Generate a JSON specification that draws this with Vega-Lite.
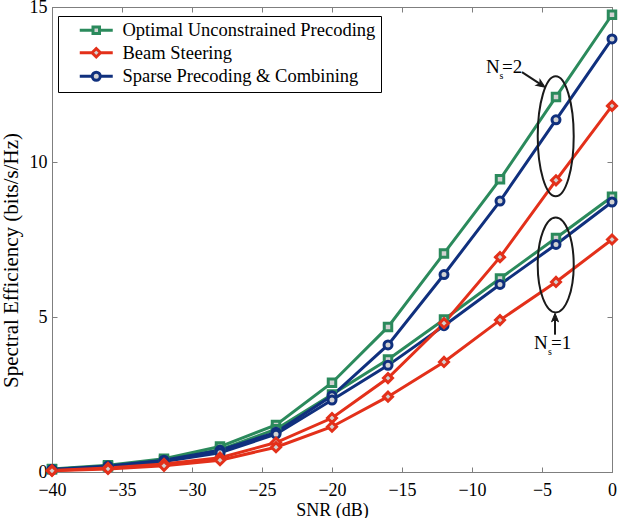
{
  "$schema": "https://vega.github.io/schema/vega-lite/v6.json",
  "width": 560,
  "height": 465,
  "autosize": {"type": "none"},
  "padding": {"left": 52, "top": 7, "right": 11, "bottom": 46},
  "background": "white",
  "config": {
    "view": {"stroke": "#7f7f7f", "strokeWidth": 1},
    "font": "Liberation Serif",
    "axis": {
      "grid": false,
      "domainColor": "#7f7f7f",
      "tickColor": "#7f7f7f",
      "tickSize": -5,
      "labelFont": "Liberation Serif",
      "labelFontSize": 18,
      "labelColor": "black",
      "labelFlush": false,
      "titleFont": "Liberation Serif",
      "titleFontSize": 18,
      "titleFontWeight": "normal",
      "titleColor": "black"
    },
    "legend": {"labelFont": "Liberation Serif"}
  },
  "datasets": {
    "curves": [
      {"snr": -40, "se": 0.10, "method": "Optimal Unconstrained Precoding", "ns": "2"},
      {"snr": -36, "se": 0.22, "method": "Optimal Unconstrained Precoding", "ns": "2"},
      {"snr": -32, "se": 0.43, "method": "Optimal Unconstrained Precoding", "ns": "2"},
      {"snr": -28, "se": 0.82, "method": "Optimal Unconstrained Precoding", "ns": "2"},
      {"snr": -24, "se": 1.52, "method": "Optimal Unconstrained Precoding", "ns": "2"},
      {"snr": -20, "se": 2.88, "method": "Optimal Unconstrained Precoding", "ns": "2"},
      {"snr": -16, "se": 4.68, "method": "Optimal Unconstrained Precoding", "ns": "2"},
      {"snr": -12, "se": 7.05, "method": "Optimal Unconstrained Precoding", "ns": "2"},
      {"snr": -8, "se": 9.44, "method": "Optimal Unconstrained Precoding", "ns": "2"},
      {"snr": -4, "se": 12.10, "method": "Optimal Unconstrained Precoding", "ns": "2"},
      {"snr": 0, "se": 14.75, "method": "Optimal Unconstrained Precoding", "ns": "2"},
      {"snr": -40, "se": 0.09, "method": "Optimal Unconstrained Precoding", "ns": "1"},
      {"snr": -36, "se": 0.18, "method": "Optimal Unconstrained Precoding", "ns": "1"},
      {"snr": -32, "se": 0.37, "method": "Optimal Unconstrained Precoding", "ns": "1"},
      {"snr": -28, "se": 0.72, "method": "Optimal Unconstrained Precoding", "ns": "1"},
      {"snr": -24, "se": 1.38, "method": "Optimal Unconstrained Precoding", "ns": "1"},
      {"snr": -20, "se": 2.50, "method": "Optimal Unconstrained Precoding", "ns": "1"},
      {"snr": -16, "se": 3.63, "method": "Optimal Unconstrained Precoding", "ns": "1"},
      {"snr": -12, "se": 4.92, "method": "Optimal Unconstrained Precoding", "ns": "1"},
      {"snr": -8, "se": 6.24, "method": "Optimal Unconstrained Precoding", "ns": "1"},
      {"snr": -4, "se": 7.55, "method": "Optimal Unconstrained Precoding", "ns": "1"},
      {"snr": 0, "se": 8.88, "method": "Optimal Unconstrained Precoding", "ns": "1"},
      {"snr": -40, "se": 0.08, "method": "Sparse Precoding & Combining", "ns": "2"},
      {"snr": -36, "se": 0.19, "method": "Sparse Precoding & Combining", "ns": "2"},
      {"snr": -32, "se": 0.38, "method": "Sparse Precoding & Combining", "ns": "2"},
      {"snr": -28, "se": 0.70, "method": "Sparse Precoding & Combining", "ns": "2"},
      {"snr": -24, "se": 1.28, "method": "Sparse Precoding & Combining", "ns": "2"},
      {"snr": -20, "se": 2.46, "method": "Sparse Precoding & Combining", "ns": "2"},
      {"snr": -16, "se": 4.10, "method": "Sparse Precoding & Combining", "ns": "2"},
      {"snr": -12, "se": 6.37, "method": "Sparse Precoding & Combining", "ns": "2"},
      {"snr": -8, "se": 8.74, "method": "Sparse Precoding & Combining", "ns": "2"},
      {"snr": -4, "se": 11.36, "method": "Sparse Precoding & Combining", "ns": "2"},
      {"snr": 0, "se": 13.97, "method": "Sparse Precoding & Combining", "ns": "2"},
      {"snr": -40, "se": 0.07, "method": "Sparse Precoding & Combining", "ns": "1"},
      {"snr": -36, "se": 0.15, "method": "Sparse Precoding & Combining", "ns": "1"},
      {"snr": -32, "se": 0.34, "method": "Sparse Precoding & Combining", "ns": "1"},
      {"snr": -28, "se": 0.62, "method": "Sparse Precoding & Combining", "ns": "1"},
      {"snr": -24, "se": 1.22, "method": "Sparse Precoding & Combining", "ns": "1"},
      {"snr": -20, "se": 2.32, "method": "Sparse Precoding & Combining", "ns": "1"},
      {"snr": -16, "se": 3.44, "method": "Sparse Precoding & Combining", "ns": "1"},
      {"snr": -12, "se": 4.72, "method": "Sparse Precoding & Combining", "ns": "1"},
      {"snr": -8, "se": 6.05, "method": "Sparse Precoding & Combining", "ns": "1"},
      {"snr": -4, "se": 7.34, "method": "Sparse Precoding & Combining", "ns": "1"},
      {"snr": 0, "se": 8.71, "method": "Sparse Precoding & Combining", "ns": "1"},
      {"snr": -40, "se": 0.05, "method": "Beam Steering", "ns": "2"},
      {"snr": -36, "se": 0.13, "method": "Beam Steering", "ns": "2"},
      {"snr": -32, "se": 0.26, "method": "Beam Steering", "ns": "2"},
      {"snr": -28, "se": 0.46, "method": "Beam Steering", "ns": "2"},
      {"snr": -24, "se": 0.95, "method": "Beam Steering", "ns": "2"},
      {"snr": -20, "se": 1.74, "method": "Beam Steering", "ns": "2"},
      {"snr": -16, "se": 3.03, "method": "Beam Steering", "ns": "2"},
      {"snr": -12, "se": 4.80, "method": "Beam Steering", "ns": "2"},
      {"snr": -8, "se": 6.93, "method": "Beam Steering", "ns": "2"},
      {"snr": -4, "se": 9.41, "method": "Beam Steering", "ns": "2"},
      {"snr": 0, "se": 11.81, "method": "Beam Steering", "ns": "2"},
      {"snr": -40, "se": 0.04, "method": "Beam Steering", "ns": "1"},
      {"snr": -36, "se": 0.10, "method": "Beam Steering", "ns": "1"},
      {"snr": -32, "se": 0.20, "method": "Beam Steering", "ns": "1"},
      {"snr": -28, "se": 0.38, "method": "Beam Steering", "ns": "1"},
      {"snr": -24, "se": 0.80, "method": "Beam Steering", "ns": "1"},
      {"snr": -20, "se": 1.46, "method": "Beam Steering", "ns": "1"},
      {"snr": -16, "se": 2.43, "method": "Beam Steering", "ns": "1"},
      {"snr": -12, "se": 3.55, "method": "Beam Steering", "ns": "1"},
      {"snr": -8, "se": 4.90, "method": "Beam Steering", "ns": "1"},
      {"snr": -4, "se": 6.13, "method": "Beam Steering", "ns": "1"},
      {"snr": 0, "se": 7.50, "method": "Beam Steering", "ns": "1"}
    ]
  },
  "layer": [
    {
      "data": {"name": "curves"},
      "mark": {"type": "line", "strokeWidth": 3},
      "encoding": {
        "x": {"field": "snr", "type": "quantitative", "title": "SNR (dB)",
          "scale": {"domain": [-40, 0], "nice": false, "zero": false},
          "axis": {"orient": "bottom", "values": [-40, -35, -30, -25, -20, -15, -10, -5, 0], "labelPadding": 14, "titlePadding": 2}},
        "y": {"field": "se", "type": "quantitative", "title": "Spectral Efficiency (bits/s/Hz)",
          "scale": {"domain": [0, 15], "nice": false},
          "axis": {"orient": "left", "values": [0, 5, 10, 15], "labelPadding": 10, "titlePadding": 8, "titleFontSize": 21, "titleY": 253}},
        "color": {"field": "method", "type": "nominal",
          "scale": {"domain": ["Optimal Unconstrained Precoding", "Beam Steering", "Sparse Precoding & Combining"], "range": ["#2b8a5c", "#e3301a", "#10307e"]},
          "legend": {
            "title": null, "orient": "none", "legendX": 6, "legendY": 9,
            "fillColor": "white", "strokeColor": "black", "padding": 5,
            "labelFont": "Liberation Serif", "labelFontSize": 18.5, "labelColor": "black", "labelLimit": 0,
            "symbolType": "circle",
            "symbolSize": 100, "symbolStrokeWidth": 3, "symbolOffset": 24, "labelOffset": 17, "rowPadding": 2.5,
            "encode": {
              "symbols": {"update": {
                "fill": {"value": "#d2d2d2"},
                "strokeWidth": {"value": 3},
                "shape": {"signal": "datum.value === 'Optimal Unconstrained Precoding' ? 'M-3.3,0H-0.65M0.65,0H3.3M-0.65,-0.65H0.65V0.65H-0.65Z' : datum.value === 'Beam Steering' ? 'M-3.3,0H-0.85M0.85,0H3.3M-0.85,0L0,-0.85L0.85,0L0,0.85Z' : 'M-3.3,0H-0.8M0.8,0H3.3M-0.8,0A0.8,0.8,0,1,1,0.8,0A0.8,0.8,0,1,1,-0.8,0Z'"}
              }}
            }
          }},
        "detail": {"field": "ns"}
      }
    },
    {
      "data": {"name": "curves"},
      "transform": [{"filter": "datum.method === 'Optimal Unconstrained Precoding'"}],
      "mark": {"type": "point", "shape": "square", "filled": true, "fill": "#d2d2d2", "stroke": "#2b8a5c", "strokeWidth": 3, "size": 56, "opacity": 1},
      "encoding": {
        "x": {"field": "snr", "type": "quantitative",
          "axis": {"orient": "top", "labels": false, "title": null, "values": [-40, -35, -30, -25, -20, -15, -10, -5, 0]}},
        "y": {"field": "se", "type": "quantitative",
          "axis": {"orient": "right", "labels": false, "title": null, "values": [0, 5, 10, 15]}}
      }
    },
    {
      "data": {"name": "curves"},
      "transform": [{"filter": "datum.method === 'Sparse Precoding & Combining'"}],
      "mark": {"type": "point", "shape": "circle", "filled": true, "fill": "#d2d2d2", "stroke": "#10307e", "strokeWidth": 3, "size": 64, "opacity": 1},
      "encoding": {
        "x": {"field": "snr", "type": "quantitative", "axis": null},
        "y": {"field": "se", "type": "quantitative", "axis": null}
      }
    },
    {
      "data": {"name": "curves"},
      "transform": [{"filter": "datum.method === 'Beam Steering'"}],
      "mark": {"type": "point", "shape": "diamond", "filled": true, "fill": "#d2d2d2", "stroke": "#e3301a", "strokeWidth": 3, "size": 81, "opacity": 1},
      "encoding": {
        "x": {"field": "snr", "type": "quantitative", "axis": null},
        "y": {"field": "se", "type": "quantitative", "axis": null}
      }
    },
    {
      "data": {"values": [{"snr": -4.02, "se": 10.83}]},
      "mark": {"type": "point", "shape": "M0,-1A0.3,1,0,1,1,0,1A0.3,1,0,1,1,0,-1Z", "size": 14400, "filled": false, "stroke": "#1a1a1a", "strokeWidth": 2, "opacity": 1},
      "encoding": {"x": {"field": "snr", "type": "quantitative", "axis": null}, "y": {"field": "se", "type": "quantitative", "axis": null}}
    },
    {
      "data": {"values": [{"snr": -4.02, "se": 6.68}]},
      "mark": {"type": "point", "shape": "M0,-1A0.379,1,0,1,1,0,1A0.379,1,0,1,1,0,-1Z", "size": 9025, "filled": false, "stroke": "#1a1a1a", "strokeWidth": 2, "opacity": 1},
      "encoding": {"x": {"field": "snr", "type": "quantitative", "axis": null}, "y": {"field": "se", "type": "quantitative", "axis": null}}
    },
    {
      "data": {"values": [
        {"snr": -6.43, "se": 12.9, "snr2": -4.9, "se2": 12.45},
        {"snr": -4.07, "se": 4.43, "snr2": -4.07, "se2": 5.05}
      ]},
      "mark": {"type": "rule", "stroke": "#1a1a1a", "strokeWidth": 2},
      "encoding": {
        "x": {"field": "snr", "type": "quantitative", "axis": null},
        "y": {"field": "se", "type": "quantitative", "axis": null},
        "x2": {"field": "snr2"},
        "y2": {"field": "se2"}
      }
    },
    {
      "data": {"values": [
        {"snr": -4.78, "se": 12.41, "dir": 124},
        {"snr": -4.07, "se": 5.12, "dir": 0}
      ]},
      "mark": {"type": "point", "shape": "M0,0L0.7,1.7L0,1.25L-0.7,1.7Z", "size": 100, "filled": true, "fill": "#1a1a1a", "stroke": "#1a1a1a", "strokeWidth": 1, "opacity": 1},
      "encoding": {
        "x": {"field": "snr", "type": "quantitative", "axis": null},
        "y": {"field": "se", "type": "quantitative", "axis": null},
        "angle": {"field": "dir", "type": "quantitative", "scale": null}
      }
    },
    {
      "data": {"values": [
        {"snr": -9.0, "se": 12.86, "txt": "N"},
        {"snr": -7.86, "se": 12.86, "txt": "=2"},
        {"snr": -5.57, "se": 3.97, "txt": "N"},
        {"snr": -4.36, "se": 3.97, "txt": "=1"}
      ]},
      "mark": {"type": "text", "align": "left", "baseline": "alphabetic", "font": "Liberation Serif", "fontSize": 19, "color": "black"},
      "encoding": {
        "x": {"field": "snr", "type": "quantitative", "axis": null},
        "y": {"field": "se", "type": "quantitative", "axis": null},
        "text": {"field": "txt"}
      }
    },
    {
      "data": {"values": [
        {"snr": -8.04, "se": 12.67, "txt": "s"},
        {"snr": -4.57, "se": 3.78, "txt": "s"}
      ]},
      "mark": {"type": "text", "align": "left", "baseline": "alphabetic", "font": "Liberation Serif", "fontSize": 10, "color": "black"},
      "encoding": {
        "x": {"field": "snr", "type": "quantitative", "axis": null},
        "y": {"field": "se", "type": "quantitative", "axis": null},
        "text": {"field": "txt"}
      }
    }
  ]
}
